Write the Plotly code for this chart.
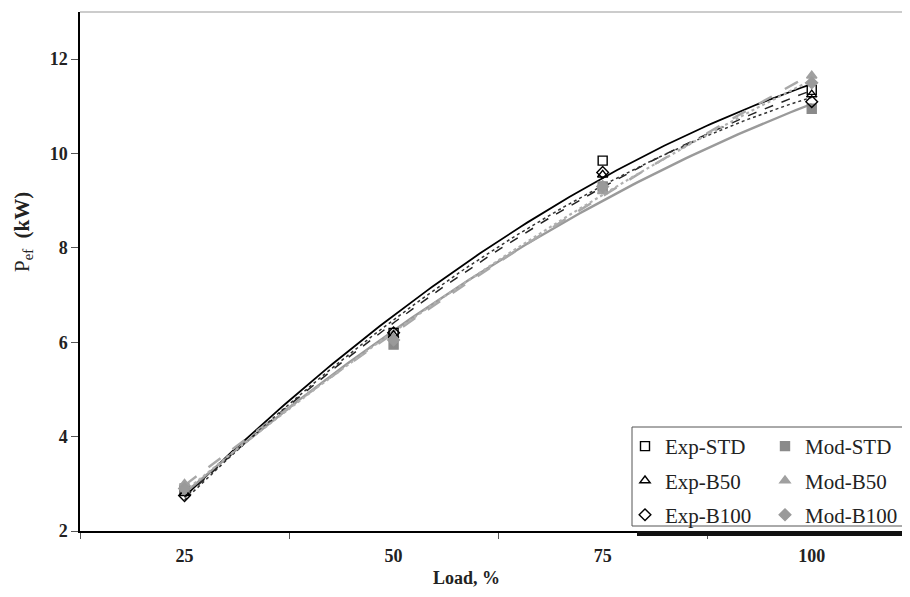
import numpy as np
import plotly.graph_objects as go

loads = ["25", "50", "75", "100"]
exp_std = [2.85, 6.20, 9.85, 11.35]
mod_std = [2.90, 5.95, 9.30, 10.95]
exp_b50 = [2.80, 6.15, 9.55, 11.25]
mod_b50 = [3.00, 6.10, 9.20, 11.65]
exp_b100 = [2.75, 6.20, 9.60, 11.10]
mod_b100 = [2.90, 6.05, 9.30, 11.50]

series = [
    ("Exp-STD", exp_std, "square-open", "black", dict(color="black", width=1.8, dash="solid"), "legend"),
    ("Mod-STD", mod_std, "square", "#8a8a8a", dict(color="#9a9a9a", width=2.4, dash="solid"), "legend2"),
    ("Exp-B50", exp_b50, "triangle-up-open", "black", dict(color="#222222", width=1.5, dash="dash"), "legend"),
    ("Mod-B50", mod_b50, "triangle-up", "#a0a0a0", dict(color="#a8a8a8", width=2.4, dash="longdash"), "legend2"),
    ("Exp-B100", exp_b100, "diamond-open", "black", dict(color="#333333", width=1.5, dash="dot"), "legend"),
    ("Mod-B100", mod_b100, "diamond", "#9a9a9a", dict(color="#b0b0b0", width=2.2, dash="dot"), "legend2"),
]

xpos = np.arange(len(loads))
xfine = np.linspace(0, len(loads) - 1, 120)

# plot area on screen (page has an 8px body margin)
PX0, PX1, PY0, PY1 = 80, 910, 12, 531
def px(sx):
    return (sx - PX0) / (PX1 - PX0)
def py(sy):
    return (PY1 - sy) / (PY1 - PY0)

fig = go.Figure()
# trend lines (2nd-order polynomial fits of the data)
for name, vals, sym, col, line, leg in series:
    c = np.polyfit(xpos, vals, 2)
    fig.add_trace(go.Scatter(x=xfine, y=np.polyval(c, xfine), mode="lines",
                             line=line, showlegend=False, hoverinfo="skip"))
# markers
for name, vals, sym, col, line, leg in series:
    fig.add_trace(go.Scatter(x=xpos, y=vals, mode="markers", name=name,
                             legend=leg, legendgroup=name,
                             marker=dict(symbol=sym, size=9, color=col,
                                         line=dict(color=col, width=1.4))))

font_family = "Liberation Serif"
leg_common = dict(orientation="v", yanchor="top", xanchor="left",
                  bgcolor="rgba(0,0,0,0)", borderwidth=0, tracegroupgap=4,
                  font=dict(family=font_family, size=21, color="#222222"),
                  itemwidth=30)
fig.update_layout(
    width=910, height=597,
    margin=dict(l=PX0 - 8, r=8, t=PY0 - 8, b=597 - (PY1 - 8), autoexpand=False),
    paper_bgcolor="white", plot_bgcolor="white",
    font=dict(family=font_family, color="black"),
    showlegend=True,
    legend=dict(x=px(625), y=py(426), **leg_common),
    legend2=dict(x=px(765), y=py(426), **leg_common),
    xaxis=dict(range=[-0.5, 3.47], tickmode="array", tickvals=list(xpos), ticktext=loads,
               ticks="", automargin=False, ticklabelstandoff=8,
               tickfont=dict(family=font_family, size=18, color="#222222", weight="bold"),
               showline=True, linecolor="black", linewidth=1.5, showgrid=False, zeroline=False,
               minor=dict(tickmode="linear", tick0=-0.5, dtick=1, ticks="outside", ticklen=6,
                          tickcolor="#555555", showgrid=False)),
    yaxis=dict(range=[2, 13], tickmode="array", tickvals=[2, 4, 6, 8, 10, 12],
               ticks="outside", ticklen=7, tickcolor="#555555", automargin=False,
               tickfont=dict(family=font_family, size=18, color="#222222", weight="bold"),
               showline=True, linecolor="black", linewidth=1.5, showgrid=False, zeroline=False),
)

# top border of plot area
fig.add_shape(type="line", xref="paper", yref="paper", x0=0, x1=1, y0=1, y1=1,
              line=dict(color="#cccccc", width=2))
# legend box
fig.add_shape(type="rect", xref="paper", yref="paper",
              x0=px(632), x1=1.0, y0=py(526), y1=py(427),
              line=dict(color="#555555", width=1), fillcolor="white", layer="above")
# dark bar under the legend (legend shadow)
fig.add_shape(type="rect", xref="paper", yref="paper", x0=px(637), x1=1.0,
              y0=py(536), y1=py(531), line=dict(width=0), fillcolor="#111111")

fig.add_annotation(text="<b>Load, %</b>", xref="paper", yref="paper",
                   x=px(466), y=py(578), showarrow=False,
                   xanchor="center", yanchor="middle",
                   font=dict(family=font_family, size=18, color="#222222"))
fig.add_annotation(text="P<sub>ef</sub>  <b>(kW)</b>", xref="paper", yref="paper",
                   x=px(23), y=py(232), textangle=-90, showarrow=False,
                   xanchor="center", yanchor="middle",
                   font=dict(family=font_family, size=21, color="#222222"))

fig.write_html("out.html")
